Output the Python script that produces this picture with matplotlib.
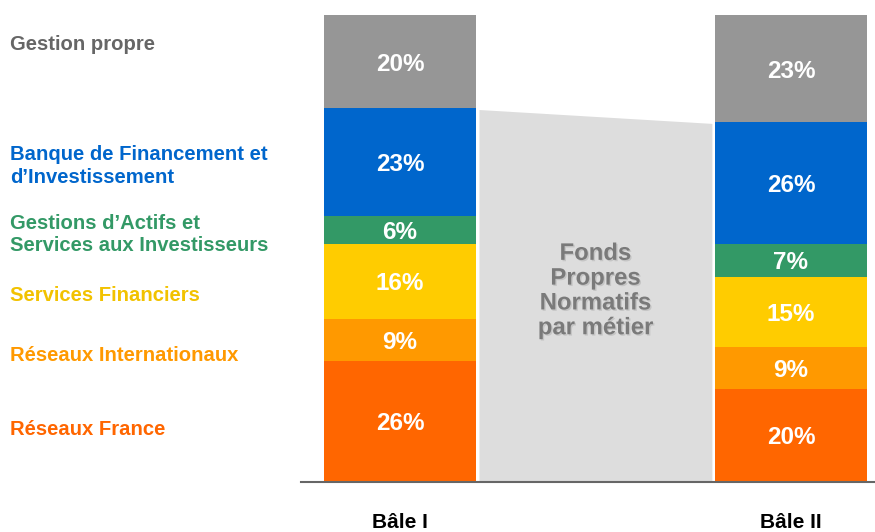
import matplotlib
matplotlib.use("Agg")
import matplotlib.pyplot as plt
import matplotlib.patheffects as pe
import matplotlib.transforms as mtransforms
import numpy as np

plt.rcParams['font.family'] = ['Liberation Sans', 'DejaVu Sans']

# ---- data ----
scenarios = ["Bâle I", "Bâle II"]
segments = ["Réseaux France", "Réseaux Internationaux", "Services Financiers",
            "Gestions d’Actifs et\nServices aux Investisseurs",
            "Banque de Financement et\nd’Investissement", "Gestion propre"]
bale1 = [26, 9, 16, 6, 23, 20]
bale2 = [20, 9, 15, 7, 26, 23]
bar_colors = ["#FF6600", "#FF9900", "#FFCC00", "#339966", "#0066CC", "#969696"]
label_colors = ["#FF6600", "#FF9900", "#F2C200", "#339966", "#0066CC", "#666666"]
label_y = [11.3, 27.0, 39.9, 53.0, 67.6, 93.6]
center_text = "Fonds\nPropres\nNormatifs\npar métier"

fig = plt.figure(figsize=(8.75, 5.32), dpi=100)
ax = fig.add_axes([301/875, 1 - 482/532, 1 - 301/875, 467/532])
ax.set_xlim(-0.253, 1.215)
ax.set_ylim(0, 100)

x = np.arange(len(scenarios))
width = 0.389
values = np.array([bale1, bale2])  # shape (2, 6)

# connecting grey polygon (business capital, excluding "Gestion propre")
core = values[:, :-1].sum(axis=1)
x0 = x[0] + width / 2 + 0.005
x1 = x[1] - width / 2 - 0.005
ax.fill_between([x0, x1], [0, 0], core, color="#DDDDDD", edgecolor="white",
                linewidth=1.5, zorder=1)

bottoms = np.zeros(len(scenarios))
for i in range(len(segments)):
    vals = values[:, i]
    ax.bar(x, vals, width, bottom=bottoms, color=bar_colors[i], linewidth=0, zorder=2)
    for xi, v, b in zip(x, vals, bottoms):
        ax.text(xi, b + v / 2, f"{v}%", ha="center", va="center_baseline", color="white",
                fontsize=17.5, fontweight="bold", zorder=3)
    bottoms = bottoms + vals

# category labels on the left
trans = mtransforms.blended_transform_factory(fig.transFigure, ax.transData)
for name, c, y in zip(segments, label_colors, label_y):
    ax.text(10 / 875, y, name, transform=trans, clip_on=False,
            ha="left", va="center", color=c, fontsize=14.6, fontweight="bold",
            linespacing=1.25)

ax.text((x0 + x1) / 2, 41.0, center_text, ha="center", va="center",
        color="#7A7A7A", fontsize=17.2, fontweight="bold", linespacing=1.1,
        zorder=3,
        path_effects=[pe.withSimplePatchShadow(offset=(1, -1), shadow_rgbFace="#666666", alpha=0.2)])

ax.set_xticks(x)
ax.set_xticklabels(scenarios, fontsize=15, fontweight="bold")
ax.tick_params(axis="x", length=0, pad=22)
ax.set_yticks([])
for s in ["top", "right", "left"]:
    ax.spines[s].set_visible(False)
ax.spines["bottom"].set_color("#666666")
ax.spines["bottom"].set_linewidth(1.5)

fig.savefig("out.png", dpi=100)
